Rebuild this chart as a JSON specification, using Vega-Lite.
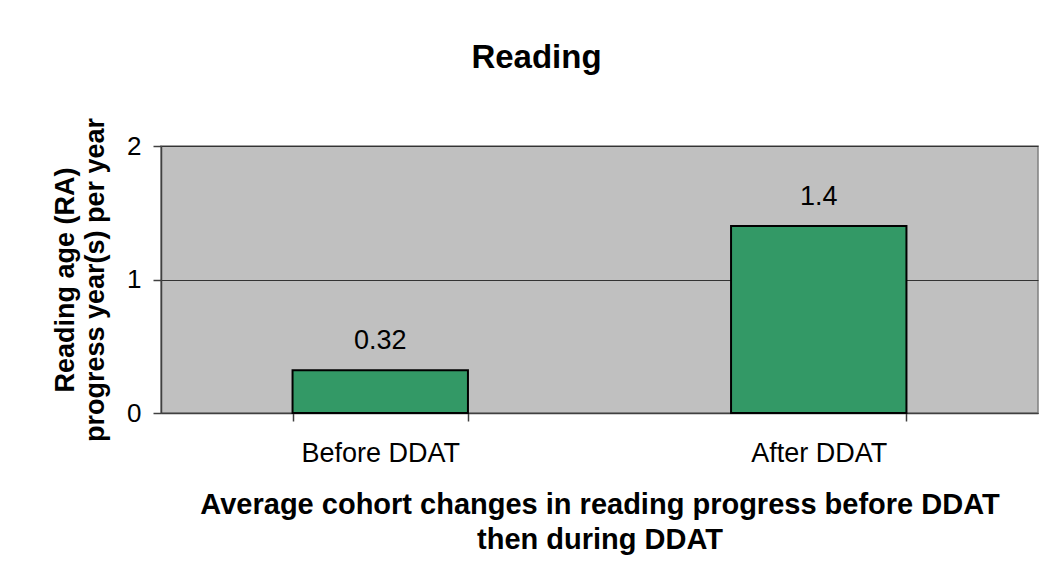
{
  "$schema": "https://vega.github.io/schema/vega-lite/v6.json",
  "autosize": "none",
  "width": 877,
  "height": 267,
  "padding": {"left": 161, "top": 146, "right": 9, "bottom": 167},
  "background": "white",
  "config": {
    "font": "Liberation Sans",
    "view": {"fill": "#C0C0C0", "stroke": "#808080", "strokeWidth": 1.5},
    "axis": {"labelFont": "Liberation Sans", "titleFont": "Liberation Sans", "labelColor": "black", "titleColor": "black"}
  },
  "title": {
    "text": "Reading",
    "font": "Liberation Sans",
    "fontSize": 33,
    "fontWeight": "bold",
    "color": "black",
    "anchor": "middle",
    "frame": "group",
    "baseline": "alphabetic",
    "offset": 16,
    "dx": -63
  },
  "data": {
    "values": [
      {"period": "Before DDAT", "progress": 0.32},
      {"period": "After DDAT", "progress": 1.4}
    ]
  },
  "encoding": {
    "x": {
      "field": "period",
      "type": "nominal",
      "sort": ["Before DDAT", "After DDAT"],
      "scale": {"paddingInner": 0.6, "paddingOuter": 0.3},
      "axis": {
        "title": ["Average cohort changes in reading progress before DDAT", "then during DDAT"],
        "titleFontSize": 29,
        "titleFontWeight": "bold",
        "titleLineHeight": 35,
        "titlePadding": 24,
        "labelAngle": 0,
        "labelFontSize": 27,
        "labelPadding": 19,
        "tickBand": "extent",
        "tickSize": 8,
        "tickColor": "#404040",
        "tickWidth": 1.5,
        "domainColor": "#404040",
        "domainWidth": 1.5,
        "grid": false
      }
    },
    "y": {
      "field": "progress",
      "type": "quantitative",
      "scale": {"domain": [0, 2]},
      "axis": {
        "title": ["Reading age (RA)", "progress year(s) per year"],
        "titleFontSize": 27,
        "titleFontWeight": "bold",
        "titleLineHeight": 30,
        "titlePadding": 17,
        "values": [0, 1, 2],
        "labelExpr": "format(datum.value, 'd')",
        "labelOverlap": false,
        "labelFontSize": 26,
        "labelPadding": 12,
        "tickSize": 8,
        "tickColor": "#404040",
        "tickWidth": 1.5,
        "domainColor": "#404040",
        "domainWidth": 1.5,
        "grid": true,
        "gridColor": "#333333",
        "gridWidth": 1
      }
    }
  },
  "layer": [
    {
      "mark": {"type": "bar", "fill": "#339966", "stroke": "black", "strokeWidth": 2}
    },
    {
      "mark": {"type": "text", "fontSize": 27, "color": "black", "baseline": "alphabetic", "dy": -21},
      "encoding": {"text": {"field": "progress", "type": "quantitative"}}
    }
  ]
}
